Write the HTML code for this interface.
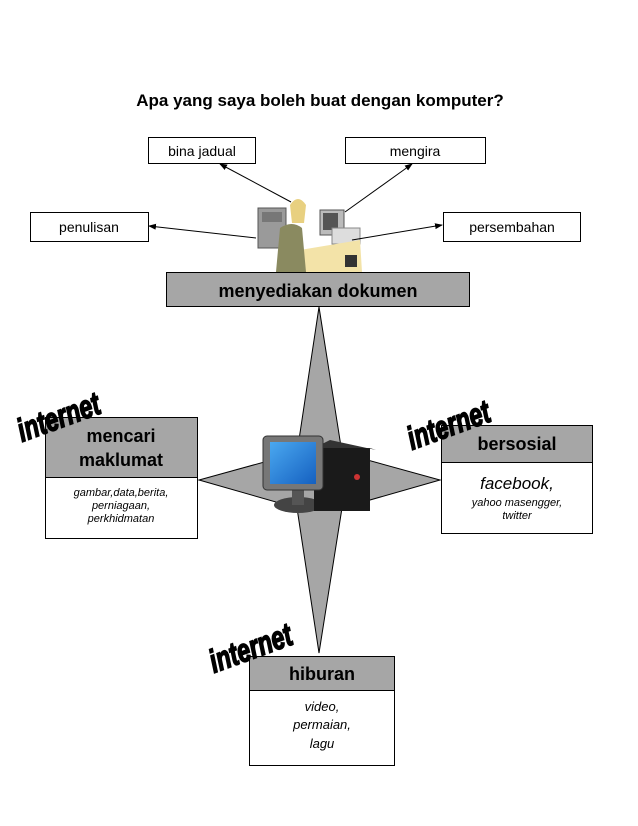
<!DOCTYPE html>
<html><head><meta charset="utf-8"><style>
body{margin:0;background:#fff;}
svg{display:block;}
text{font-family:"Liberation Sans",sans-serif;}
</style></head><body>
<svg width="638" height="826" viewBox="0 0 638 826" xmlns="http://www.w3.org/2000/svg">
<defs>
<marker id="ah" markerWidth="8" markerHeight="8" refX="7" refY="4" orient="auto" markerUnits="userSpaceOnUse">
<path d="M0,1 L8,4 L0,7 Z" fill="#000"/></marker>
<linearGradient id="scr" x1="0" y1="0" x2="1" y2="1"><stop offset="0" stop-color="#4aa8f0"/><stop offset="1" stop-color="#1560c0"/></linearGradient>
</defs>
<text x="320" y="106" text-anchor="middle" font-size="17" font-weight="bold">Apa yang saya boleh buat dengan komputer?</text>

<rect x="148.5" y="137.5" width="107" height="26" fill="#fff" stroke="#000"/>
<text x="202" y="156" text-anchor="middle" font-size="14">bina jadual</text>
<rect x="345.5" y="137.5" width="140" height="26" fill="#fff" stroke="#000"/>
<text x="415" y="156" text-anchor="middle" font-size="14">mengira</text>
<rect x="30.5" y="212.5" width="118" height="29" fill="#fff" stroke="#000"/>
<text x="89" y="232" text-anchor="middle" font-size="14">penulisan</text>
<rect x="443.5" y="212.5" width="137" height="29" fill="#fff" stroke="#000"/>
<text x="512" y="232" text-anchor="middle" font-size="14">persembahan</text>

<rect x="258" y="208" width="28" height="40" fill="#9a9a9a" stroke="#555"/>
<rect x="262" y="212" width="20" height="10" fill="#777"/>
<rect x="320" y="210" width="24" height="25" fill="#bbb" stroke="#555"/>
<rect x="323" y="213" width="15" height="17" fill="#555"/>
<rect x="332" y="228" width="28" height="16" fill="#ddd" stroke="#888"/>
<polygon points="300,250 360,240 362,272 300,272" fill="#f3e3a8"/>
<path d="M290,205 q8,-12 16,0 l-2,18 -12,0 z" fill="#e8d080"/>
<path d="M280,228 q12,-8 22,0 l4,44 -30,0 z" fill="#8a8a60"/>
<rect x="345" y="255" width="12" height="12" fill="#333"/>

<line x1="291" y1="202" x2="220" y2="164" stroke="#000" marker-end="url(#ah)"/>
<line x1="345" y1="212" x2="412" y2="164" stroke="#000" marker-end="url(#ah)"/>
<line x1="256" y1="238" x2="149" y2="226" stroke="#000" marker-end="url(#ah)"/>
<line x1="352" y1="240" x2="442" y2="225" stroke="#000" marker-end="url(#ah)"/>

<rect x="166.5" y="272.5" width="303" height="34" fill="#a6a6a6" stroke="#000"/>
<text x="318" y="297" text-anchor="middle" font-size="18" font-weight="bold">menyediakan dokumen</text>

<polygon points="319,307 342,453 440,480 342,508 319,653 297,508 199,480 297,453" fill="#a6a6a6" stroke="#000" stroke-width="1"/>

<ellipse cx="298" cy="505" rx="24" ry="8" fill="#444"/>
<rect x="292" y="485" width="12" height="20" fill="#555"/>
<rect x="314" y="448" width="56" height="63" fill="#1a1a1a"/>
<polygon points="314,448 330,440 376,450 370,448" fill="#333"/>
<rect x="354" y="474" width="6" height="6" rx="3" fill="#c33"/>
<rect x="263" y="436" width="60" height="54" rx="4" fill="#777" stroke="#333"/>
<rect x="270" y="442" width="46" height="42" fill="url(#scr)"/>

<rect x="45.5" y="417.5" width="152" height="60" fill="#a6a6a6" stroke="#000"/>
<text x="121" y="442" text-anchor="middle" font-size="18" font-weight="bold">mencari</text>
<text x="121" y="466" text-anchor="middle" font-size="18" font-weight="bold">maklumat</text>
<rect x="45.5" y="477.5" width="152" height="61" fill="#fff" stroke="#000"/>
<text x="121" y="496" text-anchor="middle" font-size="11" font-style="italic">gambar,data,berita,</text>
<text x="121" y="509" text-anchor="middle" font-size="11" font-style="italic">perniagaan,</text>
<text x="121" y="522" text-anchor="middle" font-size="11" font-style="italic">perkhidmatan</text>

<rect x="441.5" y="425.5" width="151" height="37" fill="#a6a6a6" stroke="#000"/>
<text x="517" y="450" text-anchor="middle" font-size="18" font-weight="bold">bersosial</text>
<rect x="441.5" y="462.5" width="151" height="71" fill="#fff" stroke="#000"/>
<text x="517" y="489" text-anchor="middle" font-size="17" font-style="italic">facebook,</text>
<text x="517" y="506" text-anchor="middle" font-size="11" font-style="italic">yahoo masengger,</text>
<text x="517" y="519" text-anchor="middle" font-size="11" font-style="italic">twitter</text>

<rect x="249.5" y="656.5" width="145" height="34" fill="#a6a6a6" stroke="#000"/>
<text x="322" y="680" text-anchor="middle" font-size="18" font-weight="bold">hiburan</text>
<rect x="249.5" y="690.5" width="145" height="75" fill="#fff" stroke="#000"/>
<text x="322" y="711" text-anchor="middle" font-size="13" font-style="italic">video,</text>
<text x="322" y="729" text-anchor="middle" font-size="13" font-style="italic">permaian,</text>
<text x="322" y="748" text-anchor="middle" font-size="13" font-style="italic">lagu</text>

<g font-family="'Liberation Sans Narrow','Liberation Sans',sans-serif" font-weight="bold" font-style="italic" font-size="26" stroke="#000" stroke-width="1.3">
<text transform="translate(22,442) rotate(-20) scale(0.9,1.25)">internet</text>
<text transform="translate(412,450) rotate(-20) scale(0.9,1.25)">internet</text>
<text transform="translate(214,673) rotate(-20) scale(0.9,1.25)">internet</text>
</g>
</svg>
</body></html>
